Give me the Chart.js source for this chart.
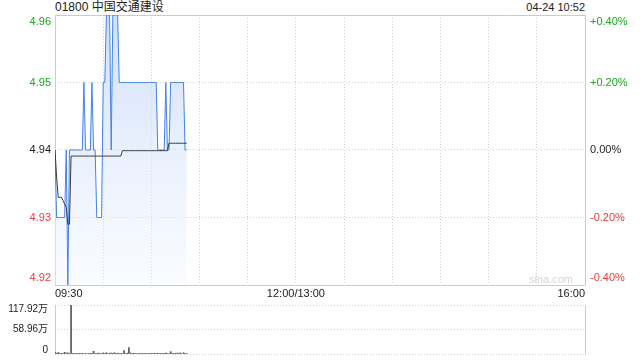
<!DOCTYPE html>
<html>
<head>
<meta charset="utf-8">
<script src="https://cdn.jsdelivr.net/npm/chart.js@4.4.1/dist/chart.umd.min.js"></script>
<style>
  html, body { margin: 0; padding: 0; background: #fff; }
  #wrap { position: relative; width: 640px; height: 360px; font-family: 'Liberation Sans', Arial, 'Noto Sans CJK SC', sans-serif; color: #222; }
  .box { position: absolute; left: 0; width: 640px; }
  .txt { position: absolute; white-space: nowrap; }
</style>
</head>
<body>
<div id="wrap">
  <div class="txt" style="left:55px;top:0;font-size:12px;line-height:14px;">01800 中国交通建设</div>
  <div class="txt" style="right:55px;top:0;font-size:11px;line-height:14px;">04-24 10:52</div>
  <div class="box" style="top:0;height:300px;"><canvas id="price-chart"></canvas></div>
  <div class="box" style="top:300px;height:60px;"><canvas id="volume-chart"></canvas></div>
  <div class="txt" style="left:529px;top:272px;font-size:11px;line-height:14px;color:#d4d4d4;">sina.com</div>
</div>
<script>
const prevClose = 4.94;

// one value per minute from 09:30
const prices = [
  4.94, 4.93, 4.93, 4.93, 4.93, 4.93, 4.93, 4.94, 4.92, 4.94,
  4.94, 4.94, 4.94, 4.94, 4.94, 4.94, 4.94, 4.94, 4.95, 4.94,
  4.94, 4.94, 4.94, 4.95, 4.94, 4.94, 4.93, 4.93, 4.93, 4.93,
  4.95, 4.95, 4.96, 4.96, 4.96, 4.94, 4.96, 4.96, 4.96, 4.96,
  4.95, 4.95, 4.95, 4.95, 4.95, 4.95, 4.95, 4.95, 4.95, 4.95,
  4.95, 4.95, 4.95, 4.95, 4.95, 4.95, 4.95, 4.95, 4.95, 4.95,
  4.95, 4.95, 4.95, 4.95, 4.94, 4.94, 4.94, 4.94, 4.94, 4.95,
  4.94, 4.94, 4.95, 4.95, 4.95, 4.95, 4.95, 4.95, 4.95, 4.95,
  4.95, 4.94, 4.94,
];

const avgPrices = [
  4.940, 4.936, 4.933, 4.933, 4.933, 4.9325, 4.932, 4.9315, 4.929, 4.929,
  4.9391, 4.9391, 4.9391, 4.9391, 4.9391, 4.9391, 4.9391, 4.9391, 4.9391, 4.9391,
  4.9391, 4.9391, 4.9391, 4.9391, 4.9391, 4.9391, 4.9391, 4.9391, 4.9391, 4.9391,
  4.9391, 4.9391, 4.9391, 4.9391, 4.9391, 4.9391, 4.9391, 4.9391, 4.9391, 4.9391,
  4.9391, 4.9391, 4.9399, 4.9399, 4.9399, 4.9399, 4.9399, 4.9399, 4.9399, 4.9399,
  4.9399, 4.9399, 4.9399, 4.9399, 4.9399, 4.9399, 4.9399, 4.9399, 4.9399, 4.9399,
  4.9399, 4.9399, 4.9399, 4.9399, 4.9399, 4.9399, 4.9399, 4.9399, 4.9399, 4.9399,
  4.9399, 4.941, 4.941, 4.941, 4.941, 4.941, 4.941, 4.941, 4.941, 4.941,
  4.941, 4.941, 4.941,
];

const volumes = [
  42000, 18000, 36000, 12000, 9000, 15000, 40000, 22000, 30000, 14000,
  1179200, 8000, 12000, 6000, 10000, 9000, 14000, 7000, 11000, 8000,
  13000, 9000, 6000, 18000, 65000, 10000, 14000, 22000, 9000, 12000,
  26000, 15000, 30000, 12000, 18000, 24000, 9000, 32000, 14000, 20000,
  10000, 16000, 8000, 80000, 12000, 20000, 152000, 26000, 14000, 18000,
  9000, 12000, 16000, 8000, 11000, 14000, 7000, 10000, 12000, 9000,
  15000, 8000, 6000, 11000, 9000, 13000, 7000, 10000, 14000, 24000,
  9000, 12000, 56000, 15000, 10000, 18000, 22000, 8000, 26000, 12000,
  30000, 16000, 10000,
];

const priceTicks = [4.92, 4.93, 4.94, 4.95, 4.96];
const volumeTicks = [0, 589600, 1179200];
const sessionMinutes = 330;
const gridMinutes = [0, 30, 60, 90, 120, 150, 180, 210, 240, 270, 300, 330];
const timeTickMinutes = [0, 150, 330];
const timeTickLabels = ['09:30', '12:00/13:00', '16:00'];

Chart.defaults.font.family = "'Liberation Sans', Arial, 'Noto Sans CJK SC', sans-serif";
Chart.defaults.color = '#333';

const GREEN = '#1aa81a';
const RED = '#ee3b3b';
const GRID = '#cfcfcf';
const FRAME = '#cccccc';

const priceColor = v => {
  const d = Math.round(v * 1000) - Math.round(prevClose * 1000);
  if (d > 0) return GREEN;
  if (d < 0) return RED;
  return '#222';
};

// first / last label pushed inside the plot like the original
const innerLabel = (text, index, count) => {
  if (index === 0) return [text, ''];
  if (index === count - 1) return ['', text];
  return text;
};

const noPadding = scale => {
  scale.paddingTop = 0;
  scale.paddingBottom = 0;
  scale.paddingLeft = 0;
  scale.paddingRight = 0;
};

const makeFrame = sides => ({
  id: 'frame',
  beforeDatasetsDraw(chart) {
    const { ctx, chartArea } = chart;
    const l = Math.round(chartArea.left) + 0.5;
    const r = Math.round(chartArea.right) + 0.5;
    const t = Math.round(chartArea.top) + 0.5;
    const b = Math.round(chartArea.bottom) + 0.5;
    ctx.save();
    ctx.strokeStyle = FRAME;
    ctx.lineWidth = 1;
    ctx.beginPath();
    if (sides.includes('left')) { ctx.moveTo(l, t); ctx.lineTo(l, b); }
    if (sides.includes('right')) { ctx.moveTo(r, t); ctx.lineTo(r, b); }
    if (sides.includes('top')) { ctx.moveTo(l, t); ctx.lineTo(r, t); }
    if (sides.includes('bottom')) { ctx.moveTo(l, b); ctx.lineTo(r, b); }
    ctx.stroke();
    ctx.restore();
  },
});

const areaFill = context => {
  const { ctx, chartArea } = context.chart;
  if (!chartArea) return null;
  const g = ctx.createLinearGradient(0, chartArea.top, 0, chartArea.bottom);
  g.addColorStop(0, 'rgba(196, 215, 248, 0.8)');
  g.addColorStop(1, 'rgba(240, 245, 255, 0.4)');
  return g;
};

// ----------------------------------------------
// price chart
// ----------------------------------------------
const priceCtx = document.getElementById('price-chart').getContext('2d');

new Chart(priceCtx, {
  type: 'line',
  data: {
    datasets: [
      {
        label: 'avg',
        data: avgPrices.map((v, i) => ({ x: i, y: v })),
        borderColor: '#3a3a3a',
        borderWidth: 1,
        pointRadius: 0,
        fill: false,
        tension: 0,
      },
      {
        label: 'price',
        data: prices.map((v, i) => ({ x: i, y: v })),
        borderColor: '#4183ea',
        borderWidth: 1,
        pointRadius: 0,
        fill: 'start',
        backgroundColor: areaFill,
        tension: 0,
      },
    ],
  },
  options: {
    responsive: true,
    maintainAspectRatio: false,
    animation: false,
    layout: { padding: { top: 15, left: 0, right: 0, bottom: 0 } },
    plugins: { legend: { display: false }, tooltip: { enabled: false } },
    scales: {
      x: {
        type: 'linear',
        min: 0,
        max: sessionMinutes,
        afterBuildTicks: scale => { scale.ticks = gridMinutes.map(v => ({ value: v })); },
        afterFit: scale => { scale.height = 15; noPadding(scale); },
        ticks: {
          autoSkip: false,
          maxRotation: 0,
          align: 'inner',
          padding: 2,
          font: { size: 11 },
          color: '#222',
          callback: v => {
            const k = timeTickMinutes.indexOf(v);
            return k >= 0 ? timeTickLabels[k] : '';
          },
        },
        grid: { color: GRID, drawTicks: false },
        border: { display: false, dash: [1, 2] },
      },
      y: {
        position: 'left',
        min: priceTicks[0],
        max: priceTicks[priceTicks.length - 1],
        afterBuildTicks: scale => { scale.ticks = priceTicks.map(v => ({ value: v })); },
        afterFit: scale => { scale.width = 55; noPadding(scale); },
        ticks: {
          padding: 4,
          font: { size: 11 },
          color: c => priceColor(c.tick.value),
          callback: (v, i, ticks) => innerLabel(v.toFixed(2), i, ticks.length),
        },
        grid: { color: GRID, drawTicks: false },
        border: { display: false, dash: [1, 2] },
      },
      y2: {
        position: 'right',
        min: priceTicks[0],
        max: priceTicks[priceTicks.length - 1],
        afterBuildTicks: scale => { scale.ticks = priceTicks.map(v => ({ value: v })); },
        afterFit: scale => { scale.width = 55; noPadding(scale); },
        ticks: {
          padding: 5,
          font: { size: 11 },
          color: c => priceColor(c.tick.value),
          callback: (v, i, ticks) => {
            const pct = Math.round((v - prevClose) / prevClose * 10000) / 100;
            const text = (pct > 0 ? '+' : '') + (pct === 0 ? '0.00' : pct.toFixed(2)) + '%';
            return innerLabel(text, i, ticks.length);
          },
        },
        grid: { drawOnChartArea: false, drawTicks: false },
        border: { display: false },
      },
    },
  },
  plugins: [makeFrame(['left', 'right', 'top', 'bottom'])],
});

// ----------------------------------------------
// volume chart
// ----------------------------------------------
const volCtx = document.getElementById('volume-chart').getContext('2d');

new Chart(volCtx, {
  type: 'bar',
  data: {
    datasets: [
      {
        label: 'volume',
        data: volumes.map((v, i) => ({ x: i, y: v })),
        backgroundColor: '#555',
        borderWidth: 0,
        barThickness: 1,
        grouped: false,
      },
    ],
  },
  options: {
    responsive: true,
    maintainAspectRatio: false,
    animation: false,
    layout: { padding: { top: 5, left: 0, right: 55, bottom: 6 } },
    plugins: { legend: { display: false }, tooltip: { enabled: false } },
    scales: {
      x: {
        type: 'linear',
        min: 0,
        max: sessionMinutes,
        offset: false,
        display: false,
        grid: { offset: false },
      },
      y: {
        position: 'left',
        min: 0,
        max: volumeTicks[volumeTicks.length - 1],
        afterBuildTicks: scale => { scale.ticks = volumeTicks.map(v => ({ value: v })); },
        afterFit: scale => { scale.width = 55; noPadding(scale); },
        ticks: {
          padding: 7,
          font: { size: 10, lineHeight: 0.8 },
          color: '#222',
          callback: (v, i, ticks) => {
            const text = v === 0 ? '0' : (v / 10000).toFixed(2) + '万';
            return innerLabel(text, i, ticks.length);
          },
        },
        grid: { color: GRID, drawTicks: false },
        border: { display: false, dash: [1, 2] },
      },
    },
  },
  plugins: [makeFrame(['left', 'right'])],
});
</script>
</body>
</html>
